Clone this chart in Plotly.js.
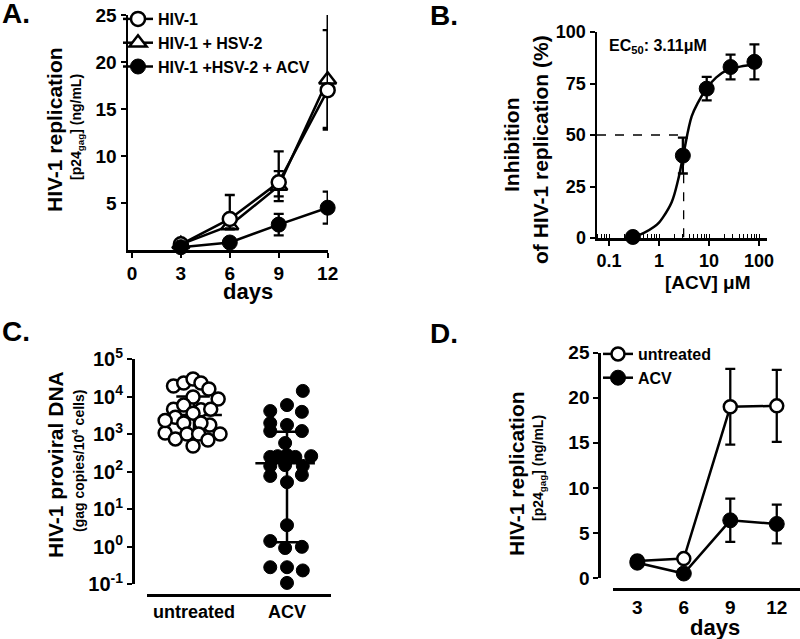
<!DOCTYPE html>
<html><head><meta charset="utf-8">
<script src="https://cdn.plot.ly/plotly-3.0.1.min.js"></script>
<style>html,body{margin:0;padding:0;background:#fff}#chart{width:800px;height:639px}</style>
</head><body><div id="chart"></div>
<script>
// ---------- DATA ----------
// Panel A
const daysA = [3, 6, 9, 12];
const hiv1 = [0.6, 3.3, 7.2, 17.0];
const hiv1ErrUp = [0.2, 2.55, 3.3, 8.3];
const hiv1ErrDown = [0.2, 1.0, 1.5, 4.0];
const hiv1Hsv2 = [0.6, 2.6, 6.8, 18.1];
const hiv1Hsv2Err = [0.2, 0.4, 1.6, 5.3];
const hiv1Hsv2Acv = [0.3, 0.8, 2.7, 4.5];
const hiv1Hsv2AcvErr = [0.1, 0.3, 1.15, 1.7];
const namesA = ['HIV-1', 'HIV-1 + HSV-2', 'HIV-1 +HSV-2 + ACV'];
// Panel B
const acvConc = [0.3, 3, 9, 27, 81];
const inhibition = [0.5, 40, 72.5, 83, 85.5];
const inhibitionErr = [0.5, 8.7, 5.7, 6, 8.5];
const fitConc = [0.28, 0.5, 0.8, 1.0, 1.2, 1.8, 2.4, 3.1, 4.5, 6.1, 9.0, 14, 22, 42, 90];
const fitInhib = [0, 2.5, 5.5, 7.5, 10, 17.5, 28, 41, 59, 66, 72.7, 78, 81.2, 83.2, 84.3];
const ec50 = 3.11;
// Panel C
const groupsC = ['untreated', 'ACV'];
const untreatedVals = [19000, 22900, 29300, 22900, 15800, 9700, 8600, 4600, 5900, 4400, 4600, 2800, 3600, 1960, 1740, 1960, 1060, 740, 1000, 1000, 690, 1000, 480, 2300];
const untreatedJitter = [-0.22, -0.11, -0.01, 0.075, 0.16, -0.01, 0.26, -0.22, -0.11, 0.075, 0.18, -0.2, -0.01, -0.11, 0.17, 0.075, -0.31, -0.2, -0.075, 0.05, 0.15, 0.28, -0.01, -0.31];
const untreatedMedian = 3200, untreatedQ1 = 1000, untreatedQ3 = 10000;
const acvVals = [14100, 5900, 4100, 3900, 1950, 1740, 1200, 1200, 575, 245, 257, 275, 245, 257, 141, 148, 141, 76, 81, 52, 3.7, 1.4, 0.91, 0.98, 0.28, 0.28, 0.23, 0.107];
const acvJitter = [0.17, 0.0, -0.18, 0.16, -0.18, 0.0, -0.18, 0.16, -0.02, -0.18, -0.1, -0.0, 0.09, 0.26, -0.18, -0.02, 0.17, -0.18, 0.16, 0.0, 0.0, -0.18, -0.02, 0.16, -0.18, 0.0, 0.17, 0.0];
const acvMedian = 165, acvQ1 = 1.3, acvQ3 = 1150;
// Panel D
const daysD = [3, 6, 9, 12];
const untreatedD = [1.9, 2.15, 19.0, 19.1];
const untreatedDErr = [0.2, 0.3, 4.2, 4.0];
const acvD = [1.7, 0.5, 6.4, 6.0];
const acvDErr = [0.2, 0.2, 2.4, 2.15];
const namesD = ['untreated', 'ACV'];

// ---------- LAYOUT HELPERS ----------
const W = 800, H = 639;
const px = v => v / W;
const py = v => 1 - v / H;
const FONT = '"Liberation Sans", Arial, sans-serif';
const bf = s => ({family: FONT, size: s, color: '#000', weight: 'bold'});
const LW = 2.5;

function errObj(up, down) {
  const e = {type: 'data', array: up, thickness: 2.3, width: 5, color: '#000', visible: true};
  if (down) { e.symmetric = false; e.arrayminus = down; } else { e.symmetric = true; }
  return e;
}
const openMk = (sym, size) => ({symbol: sym, size: size, color: '#fff', line: {color: '#000', width: 2.5}});
const fillMk = size => ({symbol: 'circle', size: size, color: '#000', line: {color: '#000', width: 1}});

const traces = [];
// ----- Panel A -----
traces.push({x: daysA, y: hiv1Hsv2, name: namesA[1], mode: 'lines+markers', xaxis: 'x', yaxis: 'y',
  marker: openMk('triangle-up', 15), line: {color: '#000', width: LW}, error_y: errObj(hiv1Hsv2Err),
  legend: 'legend', legendrank: 2, cliponaxis: false});
traces.push({x: daysA, y: hiv1, name: namesA[0], mode: 'lines+markers', xaxis: 'x', yaxis: 'y',
  marker: openMk('circle', 14), line: {color: '#000', width: LW}, error_y: errObj(hiv1ErrUp, hiv1ErrDown),
  legend: 'legend', legendrank: 1, cliponaxis: false});
traces.push({x: daysA, y: hiv1Hsv2Acv, name: namesA[2], mode: 'lines+markers', xaxis: 'x', yaxis: 'y',
  marker: fillMk(15), line: {color: '#000', width: LW}, error_y: errObj(hiv1Hsv2AcvErr),
  legend: 'legend', legendrank: 3, cliponaxis: false});

// ----- Panel B -----
const bRange = [-1.24, 2.16];
traces.push({x: [Math.pow(10, bRange[0]), ec50, ec50], y: [50, 50, 0], mode: 'lines', xaxis: 'x2', yaxis: 'y2',
  line: {color: '#000', width: 1.3, dash: 'dash'}, showlegend: false, hoverinfo: 'skip'});
traces.push({x: fitConc, y: fitInhib, mode: 'lines', xaxis: 'x2', yaxis: 'y2',
  line: {color: '#000', width: LW, shape: 'spline'}, showlegend: false, cliponaxis: false});
traces.push({x: acvConc, y: inhibition, mode: 'markers', xaxis: 'x2', yaxis: 'y2',
  marker: fillMk(15), error_y: errObj(inhibitionErr), showlegend: false, cliponaxis: false});

// ----- Panel C -----
const medHalf = [-0.34, 0.30], capHalf = [-0.19, 0.17];
function summaryTrace(i, med, lo, hi) {
  const xs = [i + medHalf[0], i + medHalf[1], null, i, i, null, i + capHalf[0], i + capHalf[1], null, i + capHalf[0], i + capHalf[1]];
  const ys = [med, med, null, lo, hi, null, hi, hi, null, lo, lo];
  return {x: xs, y: ys, mode: 'lines', xaxis: 'x3', yaxis: 'y3', line: {color: '#000', width: LW},
    showlegend: false, hoverinfo: 'skip', connectgaps: false, cliponaxis: false};
}
traces.push(summaryTrace(0, untreatedMedian, untreatedQ1, untreatedQ3));
traces.push({x: untreatedJitter.map(j => 0 + j), y: untreatedVals, mode: 'markers', xaxis: 'x3', yaxis: 'y3',
  marker: openMk('circle', 13), showlegend: false, cliponaxis: false});
traces.push({x: acvJitter.map(j => 1 + j), y: acvVals, mode: 'markers', xaxis: 'x3', yaxis: 'y3',
  marker: fillMk(13), showlegend: false, cliponaxis: false});
traces.push(summaryTrace(1, acvMedian, acvQ1, acvQ3));

// ----- Panel D -----
traces.push({x: daysD, y: untreatedD, name: namesD[0], mode: 'lines+markers', xaxis: 'x4', yaxis: 'y4',
  marker: openMk('circle', 13), line: {color: '#000', width: LW}, error_y: errObj(untreatedDErr),
  legend: 'legend2', cliponaxis: false});
traces.push({x: daysD, y: acvD, name: namesD[1], mode: 'lines+markers', xaxis: 'x4', yaxis: 'y4',
  marker: fillMk(15), line: {color: '#000', width: LW}, error_y: errObj(acvDErr),
  legend: 'legend2', cliponaxis: false});

const axBase = {showgrid: false, zeroline: false, showline: true, linecolor: '#000', linewidth: LW,
  ticks: 'outside', tickcolor: '#000', tickwidth: 2, ticklen: 5, tickfont: bf(19), fixedrange: true};

const log10ticks = [0.1, 1, 10, 100, 1000, 10000, 100000];
const log10text = ['10<sup>-1</sup>', '10<sup>0</sup>', '10<sup>1</sup>', '10<sup>2</sup>', '10<sup>3</sup>', '10<sup>4</sup>', '10<sup>5</sup>'];

const ann = (text, x, y, size, angle, xanchor) => ({text: text, x: px(x), y: py(y), xref: 'paper', yref: 'paper',
  showarrow: false, font: bf(size), textangle: angle || 0, xanchor: xanchor || 'center', yanchor: 'middle'});

const layout = {
  width: W, height: H, margin: {l: 0, r: 0, t: 0, b: 0}, paper_bgcolor: '#fff', plot_bgcolor: 'rgba(0,0,0,0)',
  font: {family: FONT, color: '#000'}, hovermode: false,
  xaxis: Object.assign({}, axBase, {domain: [px(128), px(328)], range: [-0.24, 12.02], anchor: 'y',
    tickmode: 'array', tickvals: [0, 3, 6, 9, 12]}),
  yaxis: Object.assign({}, axBase, {domain: [py(250), py(15)], range: [0, 25], anchor: 'x',
    tickmode: 'array', tickvals: [5, 10, 15, 20, 25]}),
  xaxis2: Object.assign({}, axBase, {type: 'log', domain: [px(597), px(767)], range: bRange, anchor: 'y2',
    tickfont: bf(18), tickmode: 'array', tickvals: [0.1, 1, 10, 100], ticktext: ['0.1', '1', '10', '100'],
    minor: {dtick: 'D1', ticks: 'inside', ticklen: 4, tickwidth: 1, tickcolor: '#000', showgrid: false}}),
  yaxis2: Object.assign({}, axBase, {domain: [py(238), py(32)], range: [0, 100], anchor: 'x2',
    tickfont: bf(18), tickmode: 'array', tickvals: [0, 25, 50, 75, 100]}),
  xaxis3: Object.assign({}, axBase, {domain: [px(147), px(331)], range: [-0.505, 1.473], anchor: 'free',
    position: py(595), ticks: '', tickfont: bf(18), tickmode: 'array', tickvals: [0, 1], ticktext: groupsC}),
  yaxis3: Object.assign({}, axBase, {type: 'log', domain: [py(584), py(359)], range: [-1, 5], anchor: 'free',
    position: px(133), tickfont: bf(20), tickmode: 'array', tickvals: log10ticks, ticktext: log10text}),
  xaxis4: Object.assign({}, axBase, {domain: [px(613), px(800)], range: [1.43, 13.5], anchor: 'free',
    position: py(589.3), ticks: '', tickmode: 'array', tickvals: [3, 6, 9, 12]}),
  yaxis4: Object.assign({}, axBase, {domain: [py(578), py(352.7)], range: [0, 25], anchor: 'free',
    position: px(599.3), tickmode: 'array', tickvals: [0, 5, 10, 15, 20, 25]}),
  legend: {x: px(118), y: py(2), xanchor: 'left', yanchor: 'top', font: bf(16), bgcolor: 'rgba(0,0,0,0)',
    tracegroupgap: 0, itemwidth: 30, traceorder: 'normal'},
  legend2: {x: px(598), y: py(337), xanchor: 'left', yanchor: 'top', font: bf(16), bgcolor: 'rgba(0,0,0,0)',
    tracegroupgap: 0, itemwidth: 30, traceorder: 'normal'},
  annotations: [
    ann('A.', 0, 14, 28, 0, 'left'),
    ann('B.', 428, 15, 28, 0, 'left'),
    ann('C.', 0, 332, 28, 0, 'left'),
    ann('D.', 428, 333, 28, 0, 'left'),
    ann('HIV-1 replication', 54, 130, 21, -90),
    ann('[p24<sub>gag</sub>] (ng/mL)', 77, 127, 14, -90),
    ann('days', 248, 292, 22),
    ann('Inhibition', 512, 145, 21, -90),
    ann('of HIV-1 replication (%)', 540, 150, 21, -90),
    ann('[ACV] μM', 708, 283, 19),
    ann('EC<sub>50</sub>: 3.11μM', 607, 47, 16, 0, 'left'),
    ann('HIV-1 proviral DNA', 55, 465, 21, -90),
    ann('(gag copies/10<sup>4</sup> cells)', 78, 461, 14, -90),
    ann('HIV-1 replication', 516, 474, 21, -90),
    ann('[p24<sub>gag</sub>] (ng/mL)', 539, 468, 14, -90),
    ann('days', 715, 627, 22)
  ]
};

Plotly.newPlot('chart', traces, layout, {displayModeBar: false, staticPlot: true});
</script>
</body></html>
